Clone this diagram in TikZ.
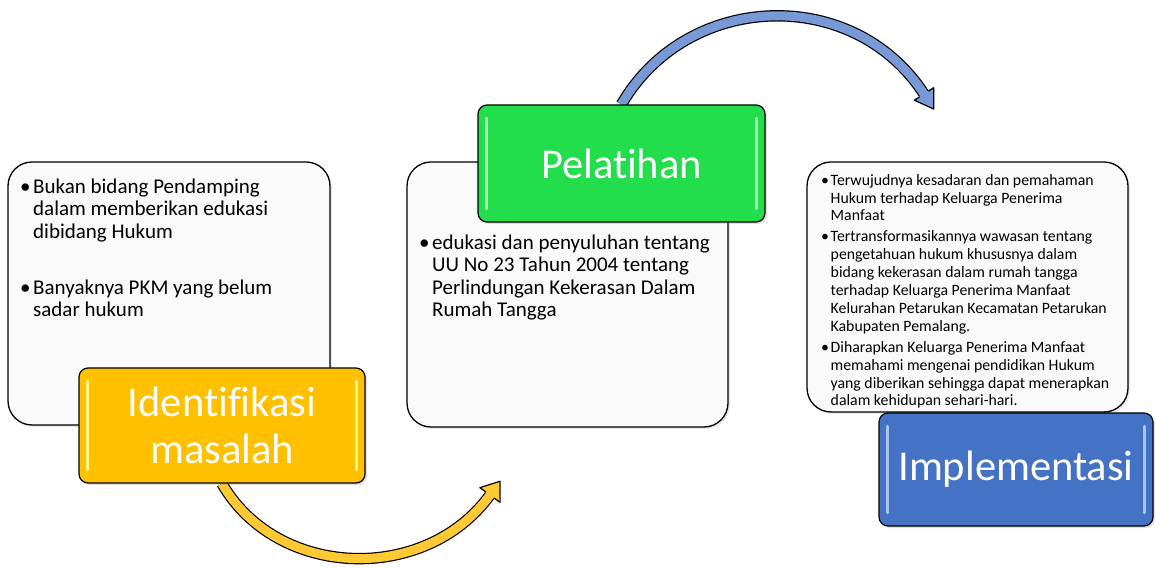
\documentclass[tikz,border=0pt]{standalone}
\usepackage{fontspec}
\setmainfont{Carlito}[Ligatures=NoCommon]
\usetikzlibrary{shadows,calc,backgrounds}
\definecolor{kuning}{HTML}{FFC000}
\definecolor{kuningmuda}{HTML}{FFF68A}
\definecolor{hijau}{HTML}{22DD4C}
\definecolor{hijaumuda}{HTML}{A8F5B8}
\definecolor{biru}{HTML}{4472C4}
\definecolor{birumuda}{HTML}{A9C4EE}
\definecolor{kuningpanah}{HTML}{FFC934}
\definecolor{birupanah}{HTML}{7899D6}
\tikzset{
	kotak/.style={draw=black, line width=1.3pt, rounded corners=24pt, fill=black!2, inner sep=0pt,
		drop shadow={opacity=0.18, shadow xshift=2pt, shadow yshift=-2pt}},
	judul/.style={draw=black, line width=1.2pt, rounded corners=9pt, fill=#1, text=white, inner sep=0pt,
		align=center, font=\fontsize{42.5}{47}\selectfont,
		drop shadow={opacity=0.25, shadow xshift=2pt, shadow yshift=-2pt}},
	isi/.style={anchor=base west, align=left, inner sep=0pt, font=\fontsize{21}{22.5}\selectfont},
	isikecil/.style={anchor=base west, align=left, inner sep=0pt, font=\fontsize{15.8}{17.9}\selectfont},
	kilap/.style={line width=3.5pt, line cap=round, #1},
	panah/.style={line width=1.2pt, double=#1, double distance=9pt}
}
\newcommand{\butir}[1][13pt]{\makebox[#1][l]{\textbullet}}
\newcommand{\lanjut}[1][13pt]{\hspace*{#1}}
\begin{document}
\begin{tikzpicture}[x=1pt,y=1pt]
	\useasboundingbox (0,0) rectangle (1155,567);
	% kotak isi
	\node[kotak, minimum width=322pt, minimum height=263pt] (kmasalah) at (169,273.5) {};
	\node[kotak, minimum width=321pt, minimum height=265pt] (kpelatihan) at (567.5,272.5) {};
	\node[kotak, minimum width=321pt, minimum height=250pt] (kimpl) at (967.5,280) {};
	% (base = garis dasar baris terakhir)
	\node[isi] (tmasalah) at (20,250) {\butir Bukan bidang Pendamping\\
		\lanjut dalam memberikan edukasi\\
		\lanjut dibidang Hukum\\[33.5pt]
		\butir Banyaknya PKM yang belum\\
		\lanjut sadar hukum};
	\node[isi] (tpelatihan) at (419,250) {\butir edukasi dan penyuluhan tentang\\
		\lanjut UU No 23 Tahun 2004 tentang\\
		\lanjut Perlindungan Kekerasan Dalam\\
		\lanjut Rumah Tangga};
	\node[isikecil] (timpl) at (821,161) {\butir[9.5pt]Terwujudnya kesadaran dan pemahaman\\
		\lanjut[9.5pt]Hukum terhadap Keluarga Penerima\\
		\lanjut[9.5pt]Manfaat\\[3pt]
		\butir[9.5pt]Tertransformasikannya wawasan tentang\\
		\lanjut[9.5pt]pengetahuan hukum khususnya dalam\\
		\lanjut[9.5pt]bidang kekerasan dalam rumah tangga\\
		\lanjut[9.5pt]terhadap Keluarga Penerima Manfaat\\
		\lanjut[9.5pt]Kelurahan Petarukan Kecamatan Petarukan\\
		\lanjut[9.5pt]Kabupaten Pemalang.\\[3pt]
		\butir[9.5pt]Diharapkan Keluarga Penerima Manfaat\\
		\lanjut[9.5pt]memahami mengenai pendidikan Hukum\\
		\lanjut[9.5pt]yang diberikan sehingga dapat menerapkan\\
		\lanjut[9.5pt]dalam kehidupan sehari-hari.};
	% kotak judul
	\node[judul=kuning, minimum width=286pt, minimum height=115pt] (ident) at (222,141.5) {Identifikasi\\masalah};
	\node[judul=hijau, minimum width=287pt, minimum height=117pt] (pel) at (621.5,403.5) {Pelatihan};
	\node[judul=biru, minimum width=274pt, minimum height=113pt] (impl) at (1016,97.5) {Implementasi};
	\foreach \n/\c in {ident/kuningmuda, pel/hijaumuda, impl/birumuda}{
		\draw[kilap=\c] ($(\n.north west)+(9,-14)$) -- ($(\n.south west)+(9,14)$);
		\draw[kilap=\c] ($(\n.north east)+(-9,-14)$) -- ($(\n.south east)+(-9,14)$);
	}
	% panah
	\begin{scope}[on background layer]
		\coordinate (ujungkuning) at (490,72);
		\coordinate (ujungbiru) at (924,473);
		\draw[panah=kuningpanah] (ident.south) to[out=-60,in=234,looseness=1.05] (ujungkuning);
		\draw[panah=birupanah] (pel.north) to[out=60,in=123,looseness=1.1] (ujungbiru);
	\end{scope}
	\begin{scope}[shift={(ujungkuning)}, rotate=54]
		\fill[kuningpanah] (-0.6,12.5) -- (17,0) -- (-0.6,-12.5) -- cycle;
		\draw[line width=1.2pt, line join=round] (0,5.1) -- (0,12.5) -- (17,0) -- (0,-12.5) -- (0,-5.1);
	\end{scope}
	\begin{scope}[shift={(ujungbiru)}, rotate=-57]
		\fill[birupanah] (-0.6,11.5) -- (18,0) -- (-0.6,-11.5) -- cycle;
		\draw[line width=1.2pt, line join=round] (0,5.1) -- (0,11.5) -- (18,0) -- (0,-11.5) -- (0,-5.1);
	\end{scope}
\end{tikzpicture}
\end{document}
